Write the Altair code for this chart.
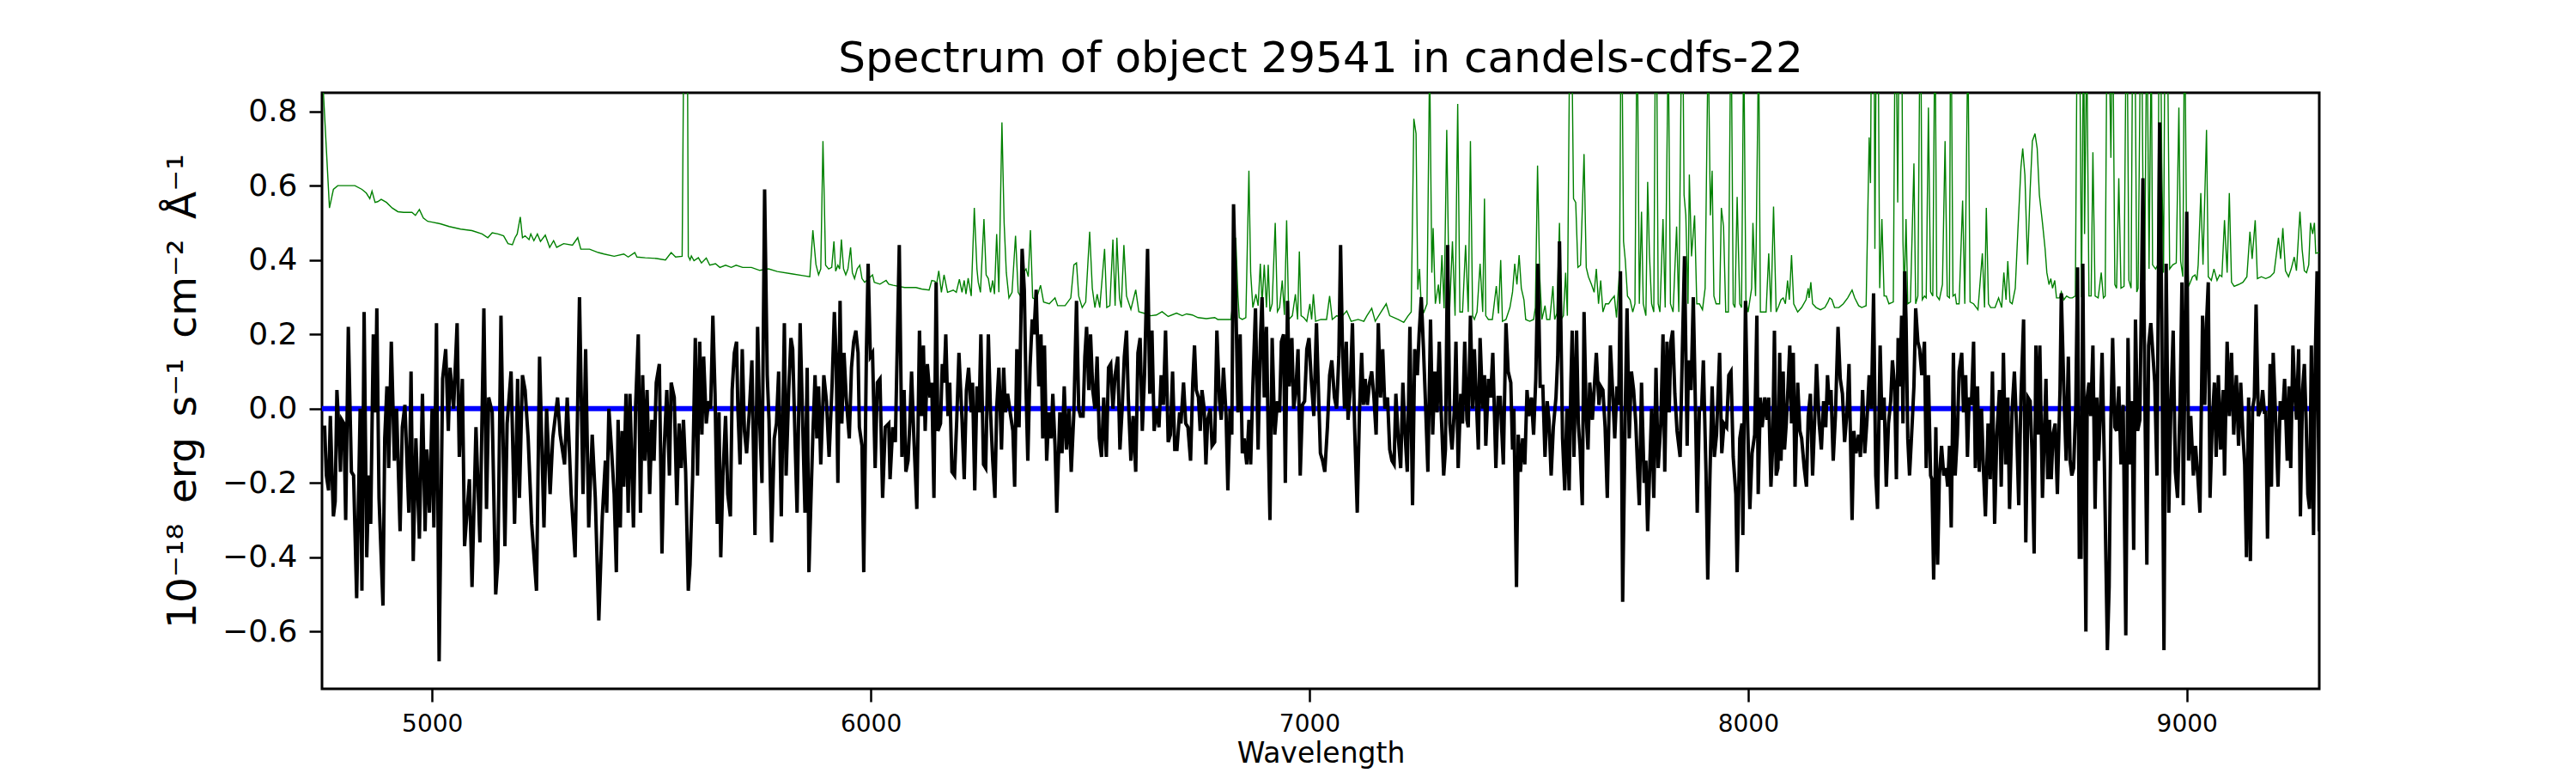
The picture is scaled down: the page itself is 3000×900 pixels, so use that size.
import altair as alt
import pandas as pd

# ---------------- object spectrum (wavelength [A], flux [1e-18 erg/s/cm2/A]) ----------------
obj_4750_5400 = [
(4749,-0.05),(4755,-0.05),(4759,-0.18),(4764,-0.22),(4768,-0.02),(4772,-0.18),(4775,-0.29),(4779,-0.25),
(4783,0.05),(4788,-0.07),(4791,-0.17),(4794,-0.03),(4799,-0.04),(4803,-0.30),(4809,0.22),(4816,-0.17),
(4821,-0.18),(4828,-0.51),(4836,0.00),(4840,-0.49),(4845,0.26),(4851,-0.40),(4856,-0.18),(4860,-0.31),
(4866,0.20),(4871,-0.01),(4874,0.27),(4879,-0.24),(4888,-0.53),(4892,-0.08),(4897,0.06),(4901,-0.16),
(4907,0.18),(4914,-0.14),(4919,0.00),(4927,-0.33),(4932,-0.05),(4938,0.01),(4947,-0.28),(4952,0.10),
(4957,-0.41),(4963,-0.08),(4971,-0.35),(4978,0.04),(4984,-0.33),(4988,-0.11),(4994,-0.28),(5000,0.00),
(5004,-0.32),(5010,0.23),(5016,-0.68),(5024,0.08),(5031,0.16),(5037,-0.06),(5041,0.11),(5049,0.00),
(5057,0.23),(5062,-0.13),(5069,0.08),(5074,-0.37),(5085,-0.19),(5091,-0.48),(5100,-0.05),(5109,-0.36),
(5118,0.27),(5124,-0.27),(5129,0.03),(5137,-0.01),(5145,-0.50),(5150,-0.41),(5157,0.25),(5166,-0.37),
(5171,-0.04),(5180,0.10),(5188,-0.31),(5195,0.08),(5199,-0.24),(5206,0.09),(5212,0.05),(5219,-0.08),
(5227,-0.31),(5238,-0.49),(5245,0.14),(5255,-0.32),(5261,0.00),(5269,-0.23),(5275,-0.08),(5286,0.03),
(5292,-0.07),(5302,-0.15),(5308,0.03),(5317,-0.23),(5326,-0.40),(5336,0.30),(5344,-0.23),(5350,0.16),
(5357,-0.32),(5365,-0.07),(5372,-0.24),(5380,-0.57),(5388,-0.29),(5395,-0.14),
]
obj_5400_6050 = [
(5398,-0.28),(5403,0.00),(5409,-0.11),(5415,-0.23),(5420,-0.44),(5424,-0.03),(5429,-0.32),(5433,-0.06),
(5437,-0.21),(5442,0.04),(5447,-0.28),(5451,0.04),(5455,-0.14),(5459,-0.32),(5464,0.01),(5470,0.20),
(5475,-0.28),(5480,0.09),(5485,-0.14),(5490,0.05),(5496,-0.23),(5501,-0.03),(5506,-0.14),(5511,0.07),
(5518,0.12),(5524,-0.39),(5529,-0.11),(5535,0.05),(5541,-0.18),(5545,0.07),(5552,0.03),(5558,-0.26),
(5563,-0.04),(5568,-0.16),(5573,-0.03),(5578,-0.17),(5584,-0.49),(5588,-0.42),(5594,-0.18),(5600,0.19),
(5605,-0.18),(5610,0.18),(5615,-0.07),(5619,0.14),(5625,-0.04),(5630,0.02),(5635,0.00),(5640,0.25),
(5645,0.04),(5650,-0.31),(5654,-0.01),(5658,-0.40),(5663,-0.18),(5669,-0.02),(5674,-0.23),(5680,-0.29),
(5684,0.05),(5689,0.15),(5694,0.18),(5697,0.00),(5702,-0.15),(5707,0.16),(5712,-0.06),(5717,-0.12),
(5723,-0.01),(5729,0.13),(5736,-0.34),(5742,0.22),(5747,-0.04),(5752,-0.20),(5758,0.59),(5764,0.09),
(5768,-0.03),(5774,-0.36),(5780,-0.08),(5785,-0.04),(5790,0.10),(5796,-0.29),(5803,0.23),(5807,-0.18),
(5813,0.05),(5818,0.19),(5822,0.16),(5828,-0.11),(5832,-0.28),(5839,0.23),(5845,-0.05),(5850,-0.28),
(5855,0.11),(5859,-0.44),(5864,-0.23),(5868,-0.07),(5873,0.09),(5877,-0.08),(5881,0.06),(5886,-0.15),
(5893,0.09),(5899,0.02),(5905,-0.13),(5912,0.07),(5917,0.26),(5921,0.14),(5925,-0.20),(5930,0.29),
(5934,-0.04),(5939,0.15),(5944,0.03),(5951,-0.08),(5956,0.11),(5961,0.18),(5966,0.21),(5971,0.15),
(5974,-0.05),(5980,-0.10),(5984,-0.44),(5990,0.15),(5994,0.39),(5999,0.14),(6004,0.15),(6010,-0.16),
(6015,0.07),(6021,0.08),(6027,-0.24),(6033,-0.05),(6041,-0.04),(6044,-0.19),(6050,-0.05),
]
obj_6050_6705 = [
(6056,-0.09),(6065,0.44),(6071,-0.13),(6076,0.05),(6080,-0.17),(6085,-0.14),(6089,-0.04),(6093,0.10),
(6098,-0.07),(6105,-0.27),(6111,0.21),(6116,-0.02),(6120,0.17),(6124,-0.06),(6129,0.12),(6135,0.03),
(6139,0.07),(6144,-0.24),(6149,0.34),(6153,-0.06),(6159,-0.04),(6163,0.12),(6167,0.07),(6171,0.20),
(6176,-0.02),(6180,0.07),(6185,-0.17),(6191,-0.18),(6196,-0.03),(6201,0.15),(6208,-0.03),(6213,-0.19),
(6218,0.05),(6223,0.11),(6229,-0.01),(6232,0.07),(6237,-0.22),(6242,0.06),(6247,-0.01),(6251,0.20),
(6257,-0.15),(6262,-0.16),(6268,0.20),(6273,-0.01),(6278,-0.14),(6283,-0.24),(6287,0.00),(6292,0.11),
(6298,-0.11),(6303,0.11),(6307,-0.01),(6312,0.04),(6319,-0.02),(6324,-0.06),(6328,-0.21),(6333,0.16),
(6338,-0.05),(6345,0.43),(6350,0.32),(6354,0.05),(6358,-0.14),(6363,0.11),(6368,0.24),(6372,0.20),
(6377,0.32),(6383,0.06),(6388,0.20),(6392,-0.08),(6396,0.17),(6401,-0.14),(6406,-0.01),(6411,-0.08),
(6415,0.04),(6420,-0.10),(6424,-0.28),(6431,-0.01),(6436,-0.12),(6441,0.06),(6446,-0.11),(6452,0.00),
(6457,-0.17),(6463,-0.01),(6469,0.29),(6474,0.00),(6478,-0.02),(6484,-0.02),(6488,0.14),(6492,0.22),
(6497,0.05),(6501,0.20),(6506,0.05),(6511,0.00),(6516,0.14),(6521,-0.08),(6526,-0.13),(6531,0.03),
(6537,-0.13),(6542,0.11),(6547,0.12),(6552,0.00),(6557,0.09),(6563,0.14),(6568,-0.11),(6573,0.00),
(6578,0.14),(6583,0.21),(6587,0.03),(6593,-0.14),(6598,-0.02),(6604,-0.17),(6609,0.15),(6614,0.19),
(6619,-0.06),(6624,0.09),(6631,0.43),(6636,0.04),(6641,0.21),(6646,-0.06),(6651,0.00),(6657,-0.05),
(6662,0.09),(6667,0.01),(6672,0.21),(6678,-0.09),(6683,-0.07),(6688,0.10),(6693,-0.11),(6698,-0.11),
(6704,-0.01),
]
obj_6705_7360 = [
(6707,-0.04),(6713,0.07),(6718,-0.04),(6723,-0.05),(6729,-0.14),(6734,0.07),(6738,0.17),(6742,0.05),
(6747,0.03),(6751,-0.06),(6755,0.05),(6760,0.00),(6764,-0.15),(6768,-0.03),(6774,0.00),(6778,-0.10),
(6784,-0.09),(6789,0.21),(6795,0.02),(6799,-0.03),(6804,0.11),(6810,-0.02),(6814,-0.22),(6819,0.00),
(6823,-0.07),(6827,0.55),(6832,0.30),(6837,-0.01),(6842,0.20),(6847,-0.12),(6851,-0.08),(6857,-0.15),
(6862,-0.03),(6866,-0.15),(6871,0.06),(6877,0.27),(6883,-0.11),(6888,0.18),(6892,0.30),(6897,0.03),
(6902,0.22),(6906,-0.07),(6910,-0.30),(6915,0.19),(6921,-0.07),(6927,0.02),(6932,-0.01),(6936,0.18),
(6941,0.20),(6945,-0.20),(6950,0.29),(6954,0.06),(6960,0.19),(6964,0.00),(6969,0.05),(6974,0.16),
(6979,-0.18),(6984,0.01),(6989,0.02),(6994,0.16),(6999,0.19),(7004,0.08),(7010,-0.02),(7016,0.23),
(7020,0.07),(7025,-0.12),(7030,-0.14),(7035,-0.17),(7041,-0.05),(7046,0.09),(7051,0.13),(7057,0.03),
(7062,0.00),(7067,0.14),(7071,0.44),(7075,0.18),(7080,0.00),(7084,0.18),(7088,-0.03),(7093,0.05),
(7098,0.23),(7103,-0.05),(7109,-0.28),(7114,-0.01),(7119,0.15),(7123,0.01),(7127,0.08),(7132,0.01),
(7137,0.07),(7142,0.10),(7147,0.03),(7152,-0.07),(7157,0.23),(7162,0.03),(7167,0.16),(7172,0.00),
(7178,0.03),(7183,-0.11),(7188,-0.14),(7193,-0.15),(7197,0.04),(7202,-0.07),(7208,-0.16),(7213,0.07),
(7218,-0.07),(7223,-0.17),(7229,0.22),(7235,-0.26),(7240,0.16),(7246,0.09),(7250,0.20),(7255,0.30),
(7260,0.16),(7265,0.00),(7270,-0.17),(7276,0.24),(7281,-0.07),(7286,0.10),(7291,-0.01),(7296,0.18),
(7300,0.00),(7306,-0.18),(7310,-0.11),(7315,0.44),(7320,-0.04),(7325,-0.11),(7330,-0.01),(7334,0.18),
(7339,-0.16),(7345,0.04),(7349,-0.04),(7354,0.18),(7359,-0.03),
]
obj_7360_8020 = [
(7362,-0.05),(7367,0.25),(7372,0.00),(7376,0.16),(7380,0.04),(7385,-0.11),(7389,0.19),(7395,0.00),
(7399,0.09),(7402,-0.10),(7408,0.08),(7413,0.03),(7418,0.15),(7425,-0.16),(7430,0.03),(7435,0.03),
(7442,-0.15),(7448,0.23),(7453,0.10),(7459,0.07),(7463,-0.11),(7466,0.00),(7472,-0.48),(7476,-0.07),
(7481,-0.17),(7486,-0.08),(7491,-0.15),(7496,0.05),(7500,-0.02),(7506,0.03),(7511,-0.07),(7516,0.08),
(7521,0.39),(7526,0.06),(7532,0.06),(7537,-0.13),(7542,0.02),(7546,-0.03),(7551,-0.18),(7556,-0.05),
(7562,0.03),(7566,0.14),(7570,0.45),(7573,0.24),(7577,-0.08),(7582,-0.22),(7587,0.00),(7592,-0.22),
(7596,0.07),(7599,0.21),(7603,-0.13),(7609,0.21),(7613,-0.04),(7617,-0.11),(7622,-0.26),(7626,0.26),
(7631,-0.02),(7635,-0.11),(7639,0.07),(7645,-0.03),(7649,0.05),(7654,0.15),(7660,0.01),(7664,0.06),
(7669,0.05),(7674,-0.05),(7679,-0.24),(7686,0.17),(7691,0.05),(7696,-0.08),(7701,0.06),(7705,0.01),
(7709,0.37),(7714,-0.52),(7720,0.00),(7724,0.27),(7729,-0.08),(7734,0.10),(7739,0.05),(7744,-0.04),
(7748,-0.16),(7752,-0.26),(7757,0.07),(7763,-0.20),(7767,-0.14),(7771,-0.33),(7776,-0.15),(7780,0.00),
(7785,-0.24),(7790,0.11),(7795,-0.16),(7801,-0.04),(7806,0.20),(7810,-0.17),(7815,0.18),(7820,-0.01),
(7824,0.18),(7828,0.21),(7833,0.04),(7838,-0.06),(7845,-0.13),(7850,0.15),(7855,0.41),(7861,-0.10),
(7864,0.13),(7870,0.05),(7875,0.30),(7880,0.00),(7884,-0.28),(7889,0.00),(7894,0.00),(7898,0.13),
(7904,-0.17),(7908,-0.46),(7913,-0.18),(7918,0.06),(7923,-0.13),(7928,-0.07),(7935,0.15),(7940,-0.12),
(7945,-0.04),(7951,-0.05),(7956,0.09),(7961,0.10),(7966,-0.13),(7972,-0.23),(7975,-0.44),(7981,-0.08),
(7986,-0.04),(7988,-0.34),(7994,0.29),(7999,-0.04),(8004,-0.27),(8009,-0.12),(8015,-0.07),(8020,0.25),
]
obj_8020_8675 = [
(8023,-0.23),(8028,0.03),(8032,-0.05),(8038,0.03),(8043,-0.03),(8047,0.03),(8052,-0.21),(8056,-0.10),
(8060,0.21),(8064,-0.18),(8068,-0.16),(8072,0.15),(8075,-0.14),(8080,0.10),(8083,-0.11),(8087,-0.04),
(8091,0.06),(8095,0.17),(8099,-0.04),(8103,0.15),(8107,-0.21),(8113,0.07),(8118,-0.06),(8122,-0.08),
(8128,-0.16),(8133,-0.21),(8137,-0.02),(8142,0.04),(8147,-0.18),(8152,-0.02),(8156,0.12),(8162,-0.04),
(8167,-0.11),(8172,0.02),(8177,-0.05),(8181,0.09),(8185,0.01),(8189,0.05),(8194,-0.14),(8199,-0.02),
(8205,0.22),(8210,0.08),(8215,0.04),(8220,-0.09),(8226,0.00),(8230,0.12),(8237,-0.30),(8241,-0.06),
(8246,-0.12),(8252,-0.07),(8256,-0.13),(8261,0.05),(8266,-0.12),(8271,-0.03),(8276,0.09),(8281,0.00),
(8286,0.31),(8291,-0.18),(8295,-0.27),(8301,0.17),(8305,-0.03),(8310,0.03),(8315,-0.21),(8320,-0.04),
(8325,0.02),(8329,0.13),(8334,0.06),(8338,-0.19),(8342,0.19),(8346,0.06),(8350,0.25),(8353,-0.04),
(8357,0.37),(8360,0.24),(8364,-0.08),(8368,-0.18),(8374,-0.04),(8378,0.06),(8382,0.27),(8387,0.18),
(8391,0.16),(8396,0.09),(8402,0.18),(8406,-0.16),(8411,0.09),(8416,-0.18),(8419,-0.19),(8423,-0.46),
(8428,-0.05),(8432,-0.42),(8436,-0.18),(8441,-0.10),(8446,-0.18),(8451,-0.16),(8455,-0.21),(8459,-0.10),
(8463,-0.32),(8468,0.15),(8472,-0.18),(8477,-0.07),(8481,0.10),(8487,0.15),(8491,-0.01),(8496,0.09),
(8500,-0.13),(8504,0.03),(8509,0.01),(8514,0.18),(8518,-0.16),(8523,0.06),(8527,-0.17),(8532,0.00),
(8537,-0.18),(8541,-0.29),(8547,-0.04),(8552,-0.19),(8557,0.10),(8562,-0.31),(8567,-0.07),(8573,0.05),
(8577,-0.21),(8582,0.15),(8587,-0.15),(8592,0.03),(8596,-0.27),(8602,0.00),(8607,0.10),(8612,-0.05),
(8617,-0.26),(8622,0.03),(8628,0.24),(8633,-0.36),(8638,0.03),(8643,0.02),(8647,-0.11),(8652,-0.39),
(8656,0.17),(8661,-0.07),(8665,0.17),(8671,-0.24),
]
obj_8675_9302 = [
(8679,0.08),(8683,-0.19),(8687,-0.03),(8691,-0.19),(8695,-0.07),(8700,-0.04),(8705,-0.23),(8711,0.05),
(8714,0.31),(8720,0.04),(8725,-0.14),(8730,0.14),(8734,-0.14),(8738,-0.18),(8742,-0.16),(8747,0.01),
(8751,0.38),(8755,-0.40),(8759,-0.40),(8763,0.39),(8767,-0.23),(8770,-0.60),(8773,0.03),(8777,0.07),
(8781,-0.02),(8786,0.17),(8791,-0.27),(8795,0.03),(8799,-0.14),(8803,-0.01),(8807,0.15),(8812,-0.14),
(8819,-0.65),(8823,-0.48),(8827,-0.03),(8831,0.19),(8836,-0.05),(8840,-0.06),(8845,0.06),(8850,-0.15),
(8855,0.01),(8861,-0.61),(8866,0.19),(8871,-0.15),(8875,0.02),(8879,-0.38),(8883,0.24),(8888,-0.06),
(8893,-0.03),(8900,0.62),(8905,-0.03),(8909,-0.42),(8913,0.17),(8918,0.23),(8922,0.16),(8927,0.07),
(8932,-0.18),(8938,0.77),(8943,0.24),(8948,-0.65),(8953,0.39),(8959,-0.28),(8964,0.02),(8969,0.21),
(8974,-0.17),(8979,-0.24),(8985,0.03),(8989,0.34),(8992,-0.26),(8996,0.14),(9000,0.53),(9004,-0.14),
(9009,-0.02),(9015,-0.18),(9020,-0.10),(9025,-0.18),(9030,-0.28),(9036,0.25),(9041,0.01),(9045,0.23),
(9049,0.34),(9053,-0.24),(9058,-0.04),(9063,0.07),(9067,-0.13),(9072,0.09),(9077,-0.11),(9083,0.05),
(9086,-0.18),(9092,0.18),(9097,-0.02),(9102,0.15),(9107,-0.07),(9113,0.09),(9118,-0.10),(9123,0.07),
(9128,-0.07),(9132,-0.15),(9136,-0.40),(9141,0.03),(9145,-0.41),(9150,0.00),(9154,0.03),(9158,0.28),
(9163,-0.02),(9169,0.00),(9173,0.05),(9177,-0.01),(9180,-0.01),(9184,-0.35),(9190,0.12),(9193,-0.21),
(9197,0.15),(9203,-0.04),(9208,-0.21),(9213,0.02),(9218,-0.03),(9223,0.08),(9229,-0.14),(9233,0.06),
(9237,-0.16),(9242,0.17),(9246,0.05),(9250,-0.03),(9255,0.16),(9259,-0.29),(9264,0.05),(9268,0.12),
(9272,-0.03),(9276,-0.23),(9280,-0.27),(9284,0.17),(9289,-0.34),(9293,0.14),(9297,0.37),(9302,-0.33),
]

# ---------------- sky spectrum (same units) ----------------
sky_4750_5400 = [
(4750,0.90),(4766,0.54),(4775,0.59),(4785,0.60),(4804,0.60),(4824,0.60),(4840,0.59),(4850,0.58),
(4858,0.565),(4863,0.585),(4870,0.555),(4876,0.557),(4884,0.563),(4896,0.555),(4909,0.54),(4922,0.53),
(4935,0.528),(4954,0.528),(4962,0.52),(4971,0.536),(4980,0.513),(4990,0.504),(5000,0.502),(5020,0.497),
(5039,0.49),(5065,0.483),(5091,0.479),(5114,0.47),(5127,0.46),(5137,0.473),(5150,0.47),(5163,0.465),
(5173,0.444),(5183,0.441),(5189,0.46),(5194,0.47),(5201,0.516),(5206,0.46),(5212,0.465),(5221,0.455),
(5225,0.47),(5232,0.452),(5240,0.47),(5247,0.45),(5258,0.467),(5268,0.434),(5277,0.452),(5284,0.434),
(5300,0.444),(5320,0.44),(5332,0.46),(5339,0.429),(5359,0.429),(5379,0.42),(5392,0.416),
]
sky_5400_6050 = [
(5415,0.41),(5437,0.416),(5447,0.408),(5462,0.42),(5467,0.408),(5486,0.406),(5512,0.404),(5532,0.40),
(5545,0.42),(5555,0.408),(5570,0.41),(5575,1.2),(5577,1.4),(5582,1.0),(5584,0.41),(5588,0.40),
(5591,0.411),(5597,0.398),(5607,0.406),(5614,0.392),(5625,0.405),(5633,0.386),(5646,0.39),(5656,0.38),
(5669,0.386),(5682,0.38),(5693,0.386),(5708,0.38),(5728,0.38),(5747,0.372),(5767,0.376),(5787,0.369),
(5819,0.363),(5845,0.358),(5861,0.355),(5868,0.48),(5875,0.388),(5881,0.36),(5886,0.376),(5891,0.72),
(5894,0.565),(5897,0.386),(5904,0.376),(5911,0.38),(5916,0.45),(5920,0.37),(5925,0.386),(5929,0.376),
(5933,0.455),(5938,0.376),(5943,0.36),(5948,0.376),(5954,0.434),(5958,0.366),(5963,0.35),(5969,0.376),
(5975,0.386),(5980,0.35),(5986,0.34),(6004,0.36),(6008,0.34),(6021,0.335),(6035,0.345),(6041,0.335),
]
sky_6050_6705 = [
(6051,0.332),(6077,0.326),(6103,0.326),(6116,0.322),(6133,0.319),(6139,0.345),(6146,0.343),(6150,0.335),
(6155,0.371),(6161,0.313),(6167,0.36),(6175,0.313),(6188,0.319),(6195,0.313),(6202,0.348),(6208,0.313),
(6213,0.345),(6217,0.308),(6222,0.351),(6229,0.303),(6236,0.54),(6242,0.376),(6245,0.34),(6250,0.313),
(6258,0.51),(6263,0.36),(6268,0.35),(6273,0.313),(6278,0.345),(6282,0.308),(6287,0.47),(6292,0.313),
(6299,0.77),(6304,0.50),(6309,0.366),(6315,0.298),(6322,0.313),(6330,0.465),(6336,0.313),(6341,0.303),
(6348,0.366),(6354,0.376),(6359,0.355),(6364,0.48),(6369,0.298),(6377,0.293),(6387,0.332),(6394,0.287),
(6407,0.282),(6420,0.298),(6426,0.277),(6443,0.277),(6456,0.298),(6463,0.387),(6469,0.392),(6474,0.303),
(6482,0.272),(6490,0.287),(6499,0.476),(6505,0.324),(6511,0.272),(6516,0.308),(6522,0.272),(6533,0.43),
(6538,0.272),(6545,0.277),(6552,0.455),(6557,0.277),(6561,0.46),(6567,0.298),(6571,0.272),(6577,0.44),
(6583,0.303),(6593,0.267),(6604,0.32),(6611,0.261),(6625,0.256),(6638,0.25),(6651,0.252),(6664,0.261),
(6678,0.248),(6697,0.257),
]
sky_6705_7360 = [
(6710,0.25),(6720,0.255),(6733,0.252),(6746,0.245),(6765,0.242),(6784,0.245),(6791,0.24),(6821,0.24),
(6827,0.30),(6832,0.46),(6837,0.303),(6840,0.245),(6847,0.24),(6855,0.245),(6862,0.64),(6866,0.366),
(6871,0.272),(6878,0.308),(6883,0.277),(6888,0.39),(6892,0.282),(6897,0.387),(6902,0.272),(6906,0.387),
(6910,0.261),(6915,0.282),(6922,0.50),(6927,0.261),(6932,0.272),(6938,0.345),(6943,0.252),(6948,0.507),
(6953,0.24),(6961,0.25),(6968,0.308),(6973,0.24),(6977,0.423),(6981,0.25),(6987,0.245),(6994,0.235),
(7001,0.282),(7005,0.24),(7009,0.308),(7014,0.235),(7026,0.24),(7039,0.24),(7046,0.303),(7052,0.24),
(7062,0.25),(7072,0.245),(7085,0.263),(7095,0.235),(7111,0.24),(7124,0.235),(7131,0.25),(7142,0.27),
(7150,0.235),(7163,0.26),(7175,0.282),(7183,0.25),(7202,0.24),(7215,0.232),(7225,0.25),(7232,0.26),
(7238,0.78),(7243,0.74),(7247,0.32),(7251,0.376),(7255,0.272),(7261,0.26),(7268,0.282),(7274,0.95),
(7279,0.366),(7282,0.486),(7287,0.282),(7294,0.334),(7297,0.282),(7302,0.413),(7307,0.27),(7313,0.75),
(7319,0.25),(7326,0.45),(7332,0.25),(7338,0.82),(7343,0.26),(7349,0.26),(7356,0.44),
]
sky_7360_8020 = [
(7362,0.26),(7367,0.72),(7372,0.25),(7376,0.24),(7382,0.26),(7389,0.39),(7395,0.26),(7399,0.565),
(7402,0.25),(7408,0.24),(7417,0.24),(7426,0.33),(7431,0.256),(7436,0.40),(7440,0.235),(7448,0.24),
(7457,0.272),(7463,0.314),(7468,0.39),(7473,0.334),(7478,0.413),(7483,0.324),(7489,0.293),(7493,0.24),
(7502,0.235),(7511,0.24),(7515,0.272),(7520,0.654),(7525,0.355),(7530,0.24),(7537,0.277),(7541,0.24),
(7548,0.24),(7555,0.33),(7559,0.24),(7564,0.256),(7570,0.50),(7574,0.24),(7579,0.25),(7584,0.366),
(7588,0.25),(7594,1.1),(7598,1.0),(7602,0.565),(7607,0.555),(7612,0.38),(7618,0.386),(7626,0.685),
(7631,0.38),(7636,0.355),(7643,0.334),(7649,0.313),(7654,0.376),(7659,0.282),(7664,0.345),(7669,0.26),
(7675,0.282),(7682,0.282),(7688,0.293),(7695,0.303),(7700,0.245),(7707,0.376),(7711,1.2),(7716,0.45),
(7720,0.40),(7725,0.303),(7731,0.293),(7737,0.26),(7742,0.282),(7747,1.1),(7752,0.282),(7757,0.53),
(7761,0.282),(7767,0.25),(7771,0.61),(7775,0.418),(7780,0.282),(7785,0.26),(7790,1.3),(7795,0.282),
(7799,0.26),(7806,0.51),(7811,0.272),(7818,1.0),(7823,0.282),(7829,0.26),(7837,0.49),(7842,0.26),
(7850,1.2),(7854,0.575),(7858,0.52),(7863,0.282),(7866,0.63),(7871,0.41),(7878,0.52),(7883,0.282),
(7889,0.282),(7896,0.266),(7902,0.324),(7909,1.0),(7914,0.52),(7918,0.64),(7922,0.303),(7927,0.282),
(7935,0.282),(7939,0.54),(7944,0.49),(7949,0.26),(7955,0.26),(7961,1.1),(7966,0.282),(7970,0.272),
(7975,0.57),(7981,0.282),(7985,0.272),(7990,1.0),(7995,0.293),(8000,0.26),(8008,0.324),(8011,0.50),
(8017,0.303),
]
sky_8020_8675 = [
(8024,1.0),(8028,0.26),(8034,0.26),(8041,0.26),(8047,0.418),(8052,0.26),(8058,0.544),(8064,0.26),
(8070,0.277),(8075,0.293),(8080,0.298),(8085,0.282),(8090,0.345),(8094,0.293),(8099,0.413),(8104,0.282),
(8113,0.26),(8122,0.272),(8132,0.293),(8137,0.324),(8139,0.298),(8143,0.34),(8147,0.282),(8155,0.272),
(8165,0.266),(8175,0.272),(8182,0.287),(8186,0.298),(8191,0.293),(8197,0.272),(8207,0.272),(8217,0.282),
(8227,0.298),(8237,0.319),(8243,0.298),(8252,0.277),(8259,0.272),(8269,0.277),(8276,0.73),(8279,0.607),
(8282,1.2),(8287,1.1),(8289,0.43),(8292,1.0),(8295,1.3),(8300,0.324),(8305,0.51),(8310,0.303),
(8315,0.303),(8321,0.282),(8331,0.287),(8336,1.2),(8341,0.555),(8344,1.0),(8349,1.3),(8353,0.45),
(8356,0.314),(8360,0.51),(8364,0.282),(8370,0.287),(8378,0.66),(8382,0.282),(8387,0.303),(8393,1.2),
(8397,0.293),(8402,0.303),(8406,0.298),(8411,0.81),(8416,0.314),(8421,0.303),(8426,1.1),(8430,0.303),
(8436,0.293),(8443,0.334),(8449,0.72),(8454,0.303),(8459,0.298),(8462,1.2),(8467,0.303),(8472,0.308),
(8475,0.282),(8481,0.282),(8489,0.56),(8494,0.282),(8501,1.0),(8506,0.287),(8514,0.282),(8524,0.266),
(8534,0.418),(8539,0.272),(8543,0.54),(8548,0.282),(8553,0.272),(8563,0.272),(8571,0.298),(8578,0.272),
(8583,0.366),(8588,0.293),(8592,0.397),(8597,0.287),(8602,0.282),(8609,0.324),(8615,0.48),(8622,0.65),
(8626,0.70),(8631,0.628),(8637,0.387),(8643,0.59),(8648,0.72),(8654,0.74),(8659,0.70),(8664,0.575),
(8671,0.50),
]
sky_8675_9302 = [
(8677,0.43),(8681,0.366),(8686,0.334),(8690,0.35),(8694,0.324),(8699,0.345),(8703,0.298),(8710,0.298),
(8714,0.314),(8720,0.293),(8726,0.303),(8733,0.298),(8739,0.298),(8746,0.303),(8751,1.2),(8756,1.0),
(8760,0.30),(8765,1.1),(8767,0.47),(8772,1.0),(8777,0.303),(8782,0.303),(8786,0.69),(8791,0.303),
(8798,0.298),(8805,0.366),(8810,0.298),(8814,0.303),(8819,1.2),(8823,1.0),(8827,0.675),(8831,1.1),
(8836,0.334),(8840,0.324),(8845,0.62),(8850,0.324),(8857,0.329),(8863,1.2),(8868,0.345),(8873,0.324),
(8878,1.3),(8882,1.0),(8886,0.314),(8889,0.324),(8896,1.2),(8900,0.607),(8904,0.345),(8909,1.1),
(8914,0.376),(8919,1.0),(8922,0.387),(8929,0.376),(8934,0.387),(8938,1.3),(8943,0.66),(8947,0.366),
(8951,1.2),(8956,1.0),(8961,0.376),(8968,0.387),(8976,0.392),(8982,0.81),(8986,0.397),(8991,0.355),
(8995,1.1),(8999,0.53),(9004,0.329),(9008,0.34),(9013,0.355),(9019,0.36),(9023,0.345),(9026,0.387),
(9032,0.58),(9037,0.387),(9045,0.75),(9049,0.355),(9056,0.345),(9062,0.376),(9069,0.345),(9075,0.36),
(9080,0.355),(9086,0.507),(9092,0.366),(9097,0.58),(9102,0.34),(9108,0.329),(9118,0.334),(9128,0.34),
(9137,0.355),(9144,0.476),(9149,0.403),(9156,0.507),(9161,0.35),(9170,0.355),(9180,0.35),(9190,0.355),
(9199,0.366),(9209,0.46),(9214,0.403),(9219,0.486),(9225,0.371),(9232,0.355),(9238,0.376),(9245,0.408),
(9250,0.371),(9258,0.53),(9263,0.428),(9268,0.371),(9273,0.366),(9278,0.387),(9282,0.50),(9287,0.47),
(9291,0.50),(9294,0.418),(9302,0.42),
]

X_DOMAIN = [4749, 9302]
Y_DOMAIN = [-0.754, 0.85]
X_TICKS = [5000, 6000, 7000, 8000, 9000]
Y_TICKS = [-0.6, -0.4, -0.2, 0.0, 0.2, 0.4, 0.6, 0.8]
TITLE = "Spectrum of object 29541 in candels-cdfs-22"
X_TITLE = "Wavelength"
SP = "\u2002"
Y_TITLE = ("10\u207b\u00b9\u2078" + SP + "erg" + SP + "s\u207b\u00b9" + SP
           + "cm\u207b\u00b2" + SP + "\u00c5\u207b\u00b9")

obj = pd.DataFrame(obj_4750_5400 + obj_5400_6050 + obj_6050_6705 + obj_6705_7360
                   + obj_7360_8020 + obj_8020_8675 + obj_8675_9302,
                   columns=["wavelength", "flux"])
sky = pd.DataFrame(sky_4750_5400 + sky_5400_6050 + sky_6050_6705 + sky_6705_7360
                   + sky_7360_8020 + sky_8020_8675 + sky_8675_9302,
                   columns=["wavelength", "flux"])
zero = pd.DataFrame({"wavelength": X_DOMAIN, "flux": [0.0, 0.0]})

FONT = "DejaVu Sans"
xs = alt.Scale(domain=X_DOMAIN, nice=False, zero=False)
ys = alt.Scale(domain=Y_DOMAIN, nice=False, zero=False)

x_enc = alt.X("wavelength:Q", scale=xs,
              axis=alt.Axis(title=X_TITLE, values=X_TICKS, format="d",
                            labelFontSize=28, labelPadding=12,
                            titleFontSize=33, titlePadding=4))
y_enc = alt.Y("flux:Q", scale=ys,
              axis=alt.Axis(title=Y_TITLE, values=Y_TICKS, format=".1f",
                            labelFontSize=36, labelPadding=14,
                            titleFontSize=47, titlePadding=21))

zero_line = alt.Chart(zero).mark_line(color="#0000ff", strokeWidth=6, clip=True).encode(x=x_enc, y=y_enc)
sky_line = alt.Chart(sky).mark_line(color="#008000", strokeWidth=1.4, clip=True).encode(x=x_enc, y=y_enc)
obj_line = alt.Chart(obj).mark_line(color="#000000", strokeWidth=4, clip=True).encode(x=x_enc, y=y_enc)

chart = alt.layer(zero_line, sky_line, obj_line).properties(
    width=2326, height=694,
    title=alt.TitleParams(text=TITLE, fontSize=50, font=FONT, fontWeight="normal",
                          color="black", anchor="middle", baseline="alphabetic", offset=-26),
    padding={"left": 367, "top": 100, "right": 250, "bottom": 98},
    autosize=alt.AutoSizeParams(type="none"),
).configure_view(
    stroke="black", strokeWidth=3
).configure_axis(
    labelFont=FONT, titleFont=FONT, labelColor="black", titleColor="black",
    titleFontWeight="normal", tickColor="black", tickWidth=2.5, tickSize=15,
    grid=False, domain=False
)

chart.save("out.html", embed_options={"renderer": "svg", "actions": False})
